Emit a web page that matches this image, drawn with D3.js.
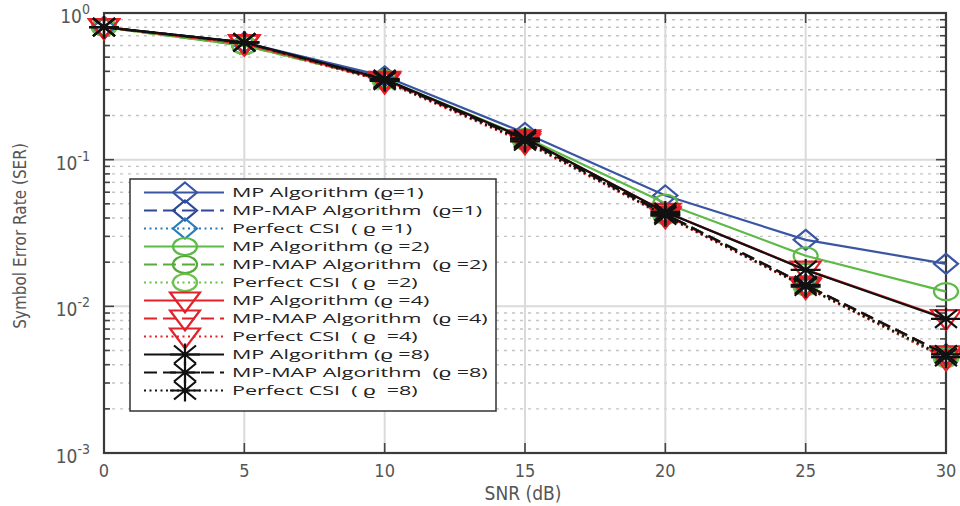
<!DOCTYPE html>
<html>
<head>
<meta charset="utf-8">
<script src="https://cdn.jsdelivr.net/npm/d3@7"></script>
<style>
  body { margin: 0; background: #fff; }
  text { font-family: "DejaVu Sans Condensed", "Liberation Sans Narrow", "Open Sans", sans-serif; }
  .legend-text { font-family: "Open Sans", sans-serif; white-space: pre; }
</style>
</head>
<body>
<script>
// SNR points (dB)
var snr = [0, 5, 10, 15, 20, 25, 30];
var xTicks = [0, 5, 10, 15, 20, 25, 30];
var yTickExps = [0, -1, -2, -3];

// SER values
var mp1     = [0.80, 0.63, 0.370, 0.152, 0.0570, 0.0284, 0.0195];
var mpmap1  = [0.80, 0.62, 0.350, 0.138, 0.0425, 0.0140, 0.0047];
var csi1    = [0.80, 0.62, 0.345, 0.134, 0.0415, 0.0136, 0.0044];
var mp2     = [0.80, 0.60, 0.355, 0.142, 0.0505, 0.0221, 0.0126];
var mpmap2  = [0.80, 0.60, 0.350, 0.138, 0.0425, 0.0140, 0.0046];
var csi2    = [0.80, 0.60, 0.345, 0.134, 0.0415, 0.0136, 0.0044];
var mp4     = [0.80, 0.62, 0.350, 0.140, 0.0440, 0.0178, 0.0083];
var mpmap4  = [0.80, 0.62, 0.345, 0.136, 0.0420, 0.0139, 0.0047];
var csi4    = [0.80, 0.62, 0.340, 0.131, 0.0410, 0.0135, 0.0044];
var mp8     = [0.80, 0.63, 0.355, 0.140, 0.0440, 0.0177, 0.0082];
var mpmap8  = [0.80, 0.63, 0.350, 0.137, 0.0425, 0.0140, 0.0047];
var csi8    = [0.80, 0.63, 0.345, 0.133, 0.0415, 0.0136, 0.0045];

var names = [
  "MP Algorithm (\u03f1=1)", "MP-MAP Algorithm  (\u03f1=1)", "Perfect CSI  ( \u03f1 =1)",
  "MP Algorithm (\u03f1 =2)", "MP-MAP Algorithm  (\u03f1 =2)", "Perfect CSI  ( \u03f1  =2)",
  "MP Algorithm (\u03f1 =4)", "MP-MAP Algorithm  (\u03f1 =4)", "Perfect CSI  ( \u03f1  =4)",
  "MP Algorithm (\u03f1 =8)", "MP-MAP Algorithm  (\u03f1 =8)", "Perfect CSI  ( \u03f1  =8)"
];
var values = [mp1, mpmap1, csi1, mp2, mpmap2, csi2, mp4, mpmap4, csi4, mp8, mpmap8, csi8];
var colors = ["#3a55a4", "#2c4896", "#2a7db8", "#5cba47", "#56ab3a", "#6cc04c",
              "#e3212a", "#e3212a", "#e3212a", "#111111", "#111111", "#111111"];
var markers = ["diamond", "diamond", "diamond", "circle", "circle", "circle",
               "triangle", "triangle", "triangle", "star", "star", "star"];
var dashes = ["none", "13,6", "2,3.5", "none", "13,6", "2,3.5",
              "none", "13,6", "2,3.5", "none", "13,6", "2,3.5"];

var width = 960, height = 506;
var svg = d3.select("body").append("svg")
    .attr("width", width)
    .attr("height", height);

var xScale = d3.scaleLinear().domain([0, 30]).range([104, 946]);
var yScale = d3.scaleLog().domain([1e-3, 1]).range([453, 13]);

function markerPath(type) {
    if (type == "diamond") return "M0,-10L12,0L0,10L-12,0Z";
    if (type == "triangle") return "M-15,-8L15,-8L0,12Z";
    if (type == "star") return "M0,-11V11M-15,0H15M-11,-9L11,9M-11,9L11,-9";
    return null;
}

//grid lines
var grid = svg.append("g");
for (var e = -3; e < 0; e++) {
    for (var m = 2; m <= 9; m++) {
        grid.append("line")
            .attr("x1", xScale(0)).attr("x2", xScale(30))
            .attr("y1", yScale(m * Math.pow(10, e))).attr("y2", yScale(m * Math.pow(10, e)))
            .attr("stroke", "#c4c4c4").attr("stroke-width", 1.4)
            .attr("stroke-dasharray", "3,5");
    }
}
yTickExps.forEach(function(p) {
    grid.append("line")
        .attr("x1", xScale(0)).attr("x2", xScale(30))
        .attr("y1", yScale(Math.pow(10, p))).attr("y2", yScale(Math.pow(10, p)))
        .attr("stroke", "#dadada").attr("stroke-width", 2);
});
xTicks.forEach(function(t) {
    grid.append("line")
        .attr("x1", xScale(t)).attr("x2", xScale(t))
        .attr("y1", yScale(1e-3)).attr("y2", yScale(1))
        .attr("stroke", "#dadada").attr("stroke-width", 2);
});

//axes frame with inward ticks
var frame = svg.append("g");
var minorVals = [];
for (var e2 = -3; e2 < 0; e2++) for (var m2 = 2; m2 <= 9; m2++) minorVals.push(m2 * Math.pow(10, e2));

[xScale(0), xScale(30)].forEach(function(xp, side) {
    var dir = side == 0 ? 1 : -1;
    minorVals.forEach(function(v) {
        frame.append("line")
            .attr("x1", xp).attr("x2", xp + dir * 6)
            .attr("y1", yScale(v)).attr("y2", yScale(v))
            .attr("stroke", "#444").attr("stroke-width", 1.6);
    });
    yTickExps.forEach(function(p) {
        frame.append("line")
            .attr("x1", xp).attr("x2", xp + dir * 10)
            .attr("y1", yScale(Math.pow(10, p))).attr("y2", yScale(Math.pow(10, p)))
            .attr("stroke", "#444").attr("stroke-width", 1.6);
    });
});
xTicks.forEach(function(t) {
    frame.append("line")
        .attr("x1", xScale(t)).attr("x2", xScale(t))
        .attr("y1", yScale(1e-3)).attr("y2", yScale(1e-3) - 10)
        .attr("stroke", "#444").attr("stroke-width", 1.6);
    frame.append("line")
        .attr("x1", xScale(t)).attr("x2", xScale(t))
        .attr("y1", yScale(1)).attr("y2", yScale(1) + 10)
        .attr("stroke", "#444").attr("stroke-width", 1.6);
});
frame.append("rect")
    .attr("x", xScale(0)).attr("y", yScale(1))
    .attr("width", xScale(30) - xScale(0))
    .attr("height", yScale(1e-3) - yScale(1))
    .attr("fill", "none")
    .attr("stroke", "#3a3a3a")
    .attr("stroke-width", 2.2);

//tick labels
xTicks.forEach(function(t) {
    svg.append("text")
        .attr("x", xScale(t)).attr("y", 477)
        .attr("text-anchor", "middle")
        .attr("font-size", 18)
        .attr("fill", "#555")
        .text(t);
});
yTickExps.forEach(function(p) {
    var lab = svg.append("text")
        .attr("x", 90).attr("y", yScale(Math.pow(10, p)) + 10)
        .attr("text-anchor", "end")
        .attr("font-size", 19)
        .attr("fill", "#555");
    lab.append("tspan").text("10");
    lab.append("tspan").attr("dy", -9).attr("font-size", 14).text(p == 0 ? "0" : p);
});

//axis titles
svg.append("text")
    .attr("x", 523).attr("y", 500)
    .attr("text-anchor", "middle")
    .attr("font-size", 19)
    .attr("fill", "#555")
    .text("SNR (dB)");
svg.append("text")
    .attr("transform", "translate(26,236) rotate(-90)")
    .attr("text-anchor", "middle")
    .attr("font-size", 17)
    .attr("fill", "#555")
    .text("Symbol Error Rate (SER)");

//lines and markers
var line = d3.line()
    .x(function(d, i) { return xScale(snr[i]); })
    .y(function(d) { return yScale(d); });
var plot = svg.append("g");
values.forEach(function(vals, k) {
    plot.append("path")
        .datum(vals)
        .attr("fill", "none")
        .attr("stroke", colors[k])
        .attr("stroke-width", 2.2)
        .attr("stroke-dasharray", dashes[k])
        .attr("d", line);
    vals.forEach(function(v, i) {
        drawMarker(plot, markers[k], xScale(snr[i]), yScale(v), colors[k]);
    });
});

function drawMarker(g, type, x, y, col) {
    if (type == "circle") {
        g.append("ellipse")
            .attr("cx", x).attr("cy", y).attr("rx", 12).attr("ry", 8.5)
            .attr("fill", "none").attr("stroke", col).attr("stroke-width", 2.2);
    } else {
        g.append("path")
            .attr("transform", "translate(" + x + "," + y + ")")
            .attr("d", markerPath(type))
            .attr("fill", "none").attr("stroke", col).attr("stroke-width", 2.2);
    }
}

//legend
var legend = svg.append("g");
legend.append("rect")
    .attr("x", 130).attr("y", 179)
    .attr("width", 366).attr("height", 232)
    .attr("fill", "#fff")
    .attr("stroke", "#333")
    .attr("stroke-width", 1.5);
var labels = legend.append("g");
names.forEach(function(name, k) {
    var ly = 192.5 + k * 18;
    legend.append("line")
        .attr("x1", 144).attr("x2", 224)
        .attr("y1", ly).attr("y2", ly)
        .attr("stroke", colors[k])
        .attr("stroke-width", 2.2)
        .attr("stroke-dasharray", dashes[k]);
    drawMarker(legend, markers[k], 185, ly, colors[k]);
    labels.append("text")
        .attr("class", "legend-text")
        .attr("x", 0).attr("y", ly + 5)
        .attr("font-size", 13)
        .attr("fill", "#222")
        .text(name);
});
// stretch labels horizontally so the longest one ends near the box edge
var widest = d3.max(labels.selectAll("text").nodes(), function(n) { return n.getComputedTextLength(); });
labels.attr("transform", "translate(232,0) scale(" + (256 / widest) + ",1)");
</script>
</body>
</html>
